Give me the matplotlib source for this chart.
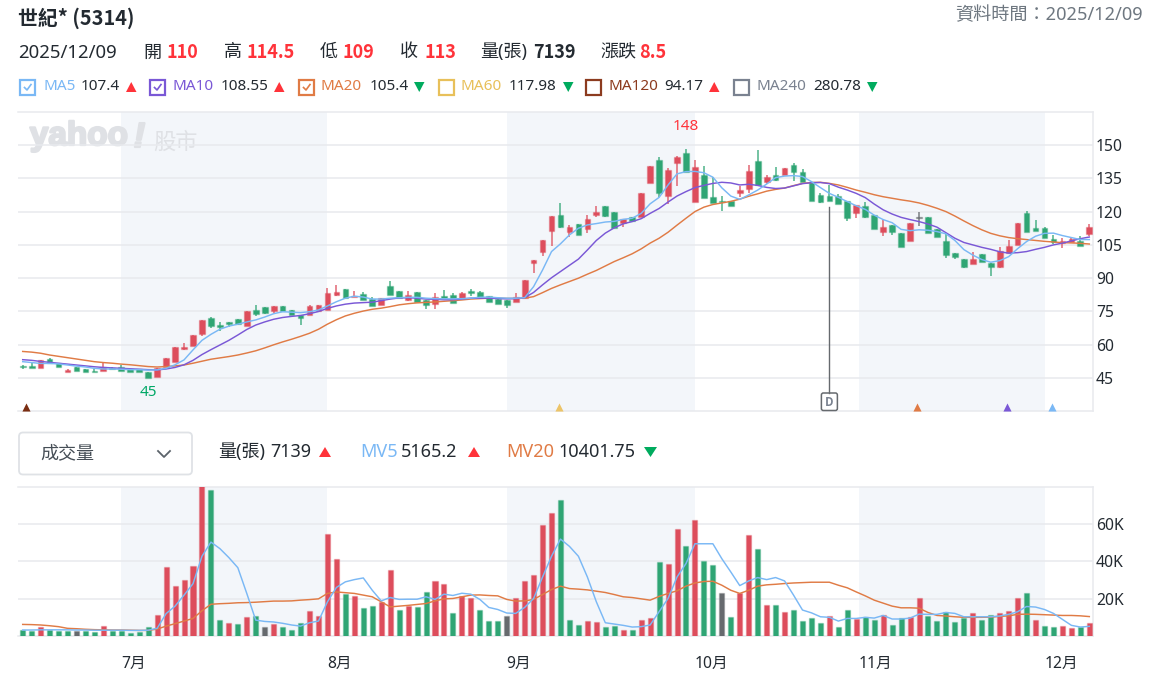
import matplotlib
matplotlib.use("Agg")
import matplotlib.pyplot as plt
from matplotlib.colors import to_rgb
from matplotlib.patches import Rectangle, FancyBboxPatch, Polygon
from matplotlib.ticker import FuncFormatter
import matplotlib.patheffects as pe

plt.rcParams['font.family'] = ['Noto Sans', 'Noto Sans CJK TC', 'DejaVu Sans']

W, H = 1160, 687

# Daily candles, 2025 sessions in order
opens = [50.3,50.6,49.4,53.8,52.0,47.8,50.0,49.3,48.2,48.4,49.7,49.9,49.3,49.3,47.8,45.4,49.9,52.1,58.3,59.5,
         65.0,71.9,68.9,70.1,71.8,68.6,75.7,76.9,75.1,77.5,75.7,73.4,73.6,75.1,75.7,82.4,85.0,81.5,82.7,80.5,
         78.0,86.6,84.2,80.2,83.6,80.2,78.2,81.8,82.4,81.0,84.1,83.6,81.8,80.6,80.0,79.3,81.0,96.7,101.7,111.3,
         118.6,110.7,114.6,112.0,118.5,122.5,119.7,114.7,117.4,117.7,132.7,143.4,127.2,141.7,146.3,124.5,136.5,126.4,124.8,124.6,
         128.4,130.0,142.8,133.3,136.5,136.6,141.0,138.0,133.5,127.5,127.0,127.0,124.8,119.2,122.5,118.5,110.7,114.0,110.2,106.9,
         117.2,117.4,112.0,106.8,101.2,98.7,96.2,101.0,96.7,94.9,101.5,105.0,119.2,112.5,112.5,107.7,105.7,106.5,106.9,110.0]
highs = [51.1,52.3,53.2,54.1,52.0,49.3,50.0,49.3,49.3,51.7,50.0,50.9,49.3,49.3,47.8,49.7,54.2,59.0,60.7,64.6,
         71.3,72.5,70.3,70.1,71.8,75.2,78.1,76.9,77.5,77.5,75.7,73.4,78.1,78.1,85.4,87.1,85.0,84.4,83.6,81.7,
         80.9,88.7,84.2,84.1,83.6,80.2,83.2,84.7,83.2,83.6,85.0,84.1,81.8,80.6,80.0,83.2,89.2,98.2,107.4,118.0,
         123.7,114.1,114.6,118.5,122.5,122.5,119.7,116.5,117.4,128.2,140.5,144.4,139.5,144.9,148.0,143.2,140.5,135.4,127.2,124.6,
         131.5,141.0,147.8,136.6,139.9,139.5,141.7,139.0,133.5,128.2,132.0,127.9,124.8,123.0,124.2,118.5,116.2,114.0,110.2,114.7,
         119.8,117.4,112.0,110.2,101.2,98.7,101.7,101.0,96.7,104.2,107.2,114.7,120.3,116.3,112.9,109.5,108.0,108.3,108.9,114.5]
lows = [49.2,49.4,49.4,51.7,49.9,47.8,48.2,47.8,47.6,48.4,49.0,48.4,47.8,47.8,45.0,45.4,49.9,52.1,57.7,59.5,
        64.1,67.4,66.4,68.2,69.0,68.6,73.0,73.7,74.2,75.1,73.6,68.9,73.6,75.1,75.7,82.0,80.9,81.5,80.2,77.5,
        78.0,82.4,80.9,79.7,79.4,76.0,76.0,80.9,78.8,81.0,82.1,81.4,79.4,78.2,76.4,79.3,81.0,92.2,100.2,104.7,
        112.5,108.5,109.6,110.2,117.7,117.7,112.6,113.1,115.6,117.7,132.7,126.4,123.4,131.7,137.8,124.5,126.0,123.7,120.4,122.5,
        126.4,128.2,132.0,132.4,134.0,136.6,133.9,133.5,124.9,123.7,124.9,123.3,115.9,117.0,117.0,112.0,109.0,109.6,103.9,106.9,
        113.5,110.2,108.6,98.9,98.5,94.4,96.2,97.3,91.0,94.4,101.5,105.0,110.7,111.4,108.1,105.4,103.4,106.5,104.6,109.0]
closes = [50.0,49.4,53.2,52.0,50.2,48.7,48.2,47.8,47.8,49.9,49.0,48.4,47.8,47.8,45.0,49.7,53.9,59.0,59.2,64.6,
          71.3,68.5,67.9,69.5,69.2,75.2,74.0,74.2,77.5,75.1,73.6,71.9,77.5,78.1,83.2,83.8,80.9,82.0,80.2,77.5,
          80.9,82.4,81.0,82.3,79.4,77.8,81.4,81.2,78.8,83.2,83.2,81.4,79.4,78.2,78.1,81.5,89.2,98.2,107.4,118.0,
          112.9,112.9,109.6,116.8,119.8,118.0,112.6,116.5,115.6,128.2,140.5,128.4,138.8,144.4,137.8,140.0,126.0,123.7,124.3,122.5,
          129.7,138.3,132.0,135.7,134.4,139.5,138.0,133.5,124.9,124.2,124.9,123.3,117.0,123.0,117.7,112.0,112.9,110.7,103.9,114.7,
          117.2,110.2,108.6,100.6,99.4,94.9,98.8,97.3,95.2,102.2,104.5,114.7,110.7,111.4,108.1,106.2,106.8,107.5,104.6,113.0]

# Moving averages of price
ma5 = [52.4,52.0,51.6,51.6,51.4,50.9,50.4,50.0,49.4,49.1,49.1,49.0,48.8,48.8,48.6,48.7,49.4,51.0,53.2,57.7,
       62.0,64.7,67.0,68.4,69.3,70.3,71.2,72.5,74.0,74.9,74.7,74.5,74.9,75.7,77.5,79.4,81.0,81.9,81.5,80.6,
       80.6,81.0,81.2,81.4,81.4,81.0,80.8,80.7,80.7,80.8,81.0,81.4,81.5,81.2,81.0,81.0,81.2,86.2,93.7,102.0,
       105.5,109.5,112.5,114.0,114.6,115.3,115.6,116.5,117.0,119.2,123.5,126.4,132.0,137.0,138.0,138.1,137.5,135.5,130.7,127.0,
       125.5,127.5,129.7,132.4,135.3,136.0,136.2,135.8,133.5,130.8,128.2,126.4,124.5,122.6,121.0,118.4,116.4,115.0,112.0,111.4,
       111.8,111.6,111.0,110.0,107.0,102.9,100.4,98.4,97.2,97.9,99.7,103.3,106.5,108.9,110.2,110.3,109.2,108.3,107.4,107.4]
ma10 = [53.3,53.0,52.5,52.1,51.7,51.3,50.9,50.5,50.1,49.8,49.6,49.4,49.2,49.0,48.8,48.7,49.1,49.8,51.0,53.0,
        55.6,57.8,59.9,62.0,64.4,66.9,68.9,70.3,71.5,72.3,72.8,73.2,74.0,75.0,76.4,77.5,78.3,78.8,79.0,79.2,
        79.9,80.6,81.1,81.2,81.0,80.6,80.5,80.3,80.3,80.6,81.0,81.0,81.0,80.8,80.7,80.8,81.2,83.6,87.0,90.2,
        93.0,95.8,98.6,102.7,107.0,110.3,112.7,114.5,115.5,116.8,119.2,121.4,124.3,127.0,129.0,130.8,131.8,132.7,133.2,132.9,
        132.0,132.3,131.8,130.9,130.4,130.6,131.6,132.6,133.0,133.1,132.6,131.0,129.7,128.2,126.3,123.4,120.8,118.9,117.4,116.4,
        115.5,114.4,113.0,110.5,108.0,106.1,105.0,103.9,103.0,101.9,101.3,101.5,102.0,103.0,103.9,105.0,105.8,106.8,107.8,108.55]
ma20 = [57.0,56.7,56.2,55.4,54.8,54.2,53.6,53.0,52.4,52.0,51.7,51.3,51.0,50.6,50.2,50.0,50.2,50.5,50.9,51.7,
        52.6,53.5,54.1,54.7,55.4,56.3,57.3,58.6,60.0,61.3,62.5,63.8,65.2,67.0,69.3,71.3,73.0,74.2,75.2,76.0,
        76.5,77.2,78.0,78.5,78.9,79.1,79.3,79.6,79.9,80.2,80.6,80.8,81.0,81.0,80.9,80.9,81.0,81.7,83.5,85.4,
        87.0,88.5,90.0,91.8,93.5,95.5,97.5,99.2,101.0,103.2,105.8,108.0,110.7,113.9,117.0,120.0,122.0,123.2,123.9,124.6,
        125.6,126.9,128.0,129.2,130.0,130.6,131.7,132.7,133.1,133.2,132.7,132.0,130.9,129.7,128.7,127.6,126.7,126.0,125.3,124.7,
        123.9,122.8,121.5,120.0,118.0,115.8,113.7,111.8,110.2,109.1,108.3,107.8,107.4,107.0,106.6,106.3,106.0,105.9,105.7,105.4]

# Volume per session in thousand lots, with direction of the day
volume = [3.0,2.7,4.8,3.2,2.7,2.7,2.8,2.8,2.1,5.3,2.8,2.8,1.4,2.1,4.8,11.4,36.8,26.7,30.2,37.3,
          84.0,78.0,8.7,6.8,6.2,10.1,10.7,4.8,6.2,4.8,3.4,6.8,13.3,10.7,54.8,41.4,22.6,21.3,14.8,16.0,
          18.0,35.6,14.0,16.2,15.5,23.5,29.3,28.1,12.1,21.2,20.1,14.0,8.0,8.0,10.7,20.1,29.3,32.7,59.6,66.0,
          72.7,8.7,6.0,8.0,7.3,4.8,5.5,3.4,3.4,8.7,9.4,39.5,38.8,57.4,48.0,62.0,40.0,38.0,22.8,10.1,
          22.8,54.0,46.8,16.7,16.7,12.8,14.0,8.0,9.4,6.8,10.7,4.8,14.0,8.9,10.1,8.7,11.4,6.0,9.4,10.1,
          20.1,10.7,8.0,12.8,7.5,9.4,12.1,8.7,11.4,12.1,13.3,20.1,22.8,8.7,5.3,4.8,5.3,4.1,4.6,7.139]
vol_dir = ["g","g","r","g","g","g","k","g","g","r","g","g","g","g","g","r","r","r","r","r",
           "r","g","g","r","g","r","g","k","r","g","g","g","r","r","r","r","g","r","g","g",
           "r","r","g","r","g","g","r","r","g","r","r","g","g","g","k","r","r","r","r","r",
           "g","g","g","r","r","g","g","r","g","r","r","g","r","r","g","r","g","g","k","g",
           "r","r","g","r","g","r","g","g","g","g","r","g","g","r","g","g","r","g","g","r",
           "r","g","g","g","g","g","r","g","g","r","r","r","g","r","g","g","r","r","g","r"]

mv5 = [3.2,3.2,3.3,3.3,3.3,3.3,3.2,3.2,3.1,3.1,3.1,3.1,3.0,3.0,3.1,4.1,12.0,16.0,21.9,28.0,
       42.7,50.3,46.8,42.0,36.6,22.8,8.5,7.8,7.5,6.8,5.9,5.3,7.1,8.0,18.3,26.0,29.0,30.2,31.1,24.5,
       18.8,20.6,19.6,19.7,19.7,21.0,19.6,22.4,21.7,22.9,22.4,19.6,15.3,14.2,12.3,12.1,15.3,20.1,31.6,42.7,
       51.9,48.0,42.7,31.6,18.3,7.1,6.4,5.7,4.8,5.0,5.9,13.0,20.1,31.6,38.8,49.4,49.4,49.4,41.4,34.3,
       27.0,29.5,31.3,30.2,31.3,29.5,21.9,13.9,12.4,10.3,10.0,8.0,9.4,9.4,10.0,9.6,11.0,9.1,9.1,9.6,
       11.7,11.6,11.6,12.6,12.1,10.3,10.3,10.3,10.3,10.7,11.6,13.0,15.8,15.5,14.2,12.1,8.9,5.7,4.8,5.165]
mv20 = [6.2,6.1,5.9,5.5,5.0,4.1,3.9,3.6,3.4,3.3,3.2,3.2,3.1,3.0,3.0,3.7,5.3,6.6,8.0,9.4,
        13.5,17.0,17.3,17.5,17.8,17.9,18.1,18.4,18.7,18.7,18.8,19.2,19.5,19.9,22.8,23.6,23.2,22.8,21.9,21.0,
        18.3,15.6,16.0,16.4,16.9,17.4,18.8,19.9,20.1,21.0,21.9,22.0,21.7,21.5,19.6,18.7,18.8,19.6,22.2,24.9,
        26.7,25.4,25.1,24.7,24.0,23.3,22.2,21.0,20.6,19.9,19.2,21.2,22.8,24.2,26.7,28.4,29.2,29.3,27.2,24.5,
        22.8,24.5,26.7,27.4,27.7,28.1,28.4,28.6,28.8,28.8,28.8,27.2,25.8,23.6,21.5,19.2,17.6,16.0,15.1,15.1,
        14.9,12.6,11.0,10.7,10.3,10.0,10.0,10.0,10.1,10.5,10.8,11.6,11.7,11.6,11.4,11.2,11.0,11.0,10.8,10.402]

# Axis content
price_ticks = [45, 60, 75, 90, 105, 120, 135, 150]
volume_ticks = [20, 40, 60]
month_labels = ["7月", "8月", "9月", "10月", "11月", "12月"]
month_starts = [11, 34, 54, 75, 93.3, 114]
shaded_months = [(11, 34), (54, 75), (93.3, 114)]

# Crossing markers along the price axis floor and the dividend flag
ma_marks = [(0.4, "#7a2e12"), (59.8, "#ecc468"), (99.8, "#e07b45"), (109.8, "#7a58d6"), (114.8, "#7ab8f5")]
flag_session = 90
flag_top = 122.0

RED_TXT = "#ff333a"
GREEN_TXT = "#00ab5e"
INK = "#232a31"
GRID = "#e8eaee"
BAND = "#f3f6fa"
RED = "#dd4d5c"
GREEN = "#2fa574"
GREY = "#666a6e"
MARK = "#dfe1e5"
C_MA5, C_MA10, C_MA20 = "#7ab8f5", "#7a58d6", "#e07b45"
C_MA60, C_MA120, C_MA240 = "#e8c05a", "#8c3b1f", "#7a8290"
BOLD = ["Noto Sans CJK TC", "DejaVu Sans"]

fig = plt.figure(figsize=(W / 100, H / 100), dpi=100, facecolor="white")


def panel(top, bottom):
    return fig.add_axes([18 / W, 1 - bottom / H, (1093 - 18) / W, (bottom - top) / H])


ax = panel(112, 411)
av = panel(487, 636)
X_LIM = (-0.524, 119.41)

for a in (ax, av):
    a.set_xlim(*X_LIM)
    a.set_xticks([])
    a.yaxis.tick_right()
    a.tick_params(axis="y", length=0, pad=2, labelsize=11.3, labelcolor=INK)
    a.set_axisbelow(True)
    a.grid(axis="y", color=GRID, lw=1.1)
    a.spines["left"].set_visible(False)
    for s in ("top", "right", "bottom"):
        a.spines[s].set_color(GRID)
        a.spines[s].set_linewidth(1.1)
    for start, end in shaded_months:
        a.axvspan(start, end, color=BAND, lw=0, zorder=0)

ax.set_ylim(30.18, 164.86)
ax.set_yticks(price_ticks)
av.set_ylim(0, 79.8)
av.set_yticks(volume_ticks)
av.yaxis.set_major_formatter(FuncFormatter(lambda v, _: f"{v:.0f}K"))

# Watermark
thicken = [pe.withStroke(linewidth=1.6, foreground=MARK)]
ax.text(0.011, 0.8896, "yahoo", transform=ax.transAxes, fontsize=24, fontweight="bold",
        family=["Liberation Sans"], color=MARK, va="baseline", zorder=0.4, path_effects=thicken)
ax.text(0.1075, 0.883, "!", transform=ax.transAxes, fontsize=25, fontweight="bold", style="italic",
        family=["Liberation Sans"], color=MARK, va="baseline", zorder=0.4, path_effects=thicken)
ax.text(0.1255, 0.9, "股市", transform=ax.transAxes, fontsize=16, family=["Noto Sans CJK TC"],
        color=MARK, va="center", zorder=0.4)

# Candles
for i, (o, h, l, c) in enumerate(zip(opens, highs, lows, closes)):
    col = RED if c > o else GREEN if c < o else GREY
    ax.vlines(i, l, h, color=col, lw=1.1, alpha=0.85, zorder=3)
    body = max(abs(c - o), 0.15)
    ax.bar(i, body, bottom=min(o, c), width=0.64, color=col, edgecolor=(*to_rgb(col), 0.35), lw=1.0, zorder=3)

sessions = list(range(len(closes)))
ax.plot(sessions, ma20, color=C_MA20, lw=1.05, zorder=4)
ax.plot(sessions, ma10, color=C_MA10, lw=1.05, zorder=5)
ax.plot(sessions, ma5, color=C_MA5, lw=1.05, zorder=6)

ax.text(74, 148 + 10.3, "148", color=RED_TXT, fontsize=11, ha="center", va="center", zorder=7)
ax.text(14, 45 - 6.3, "45", color="#00a866", fontsize=11, ha="center", va="center", zorder=7)

# Markers resting on the floor of the price panel
floor = ax.get_xaxis_transform()
for pos, col in ma_marks:
    ax.scatter([pos], [0.013], marker="^", s=34, color=col, transform=floor, lw=0, zorder=7, clip_on=False)

# Volume bars
vol_colors = {"r": RED, "g": GREEN, "k": GREY}
for i, (v, d) in enumerate(zip(volume, vol_dir)):
    col = vol_colors[d]
    av.bar(i, v, width=0.56, color=col, edgecolor=(*to_rgb(col), 0.3), lw=1.0, zorder=3)
av.plot(sessions, mv20, color=C_MA20, lw=1.05, zorder=4)
av.plot(sessions, mv5, color=C_MA5, lw=1.05, zorder=5)

# Month labels sit at the first session of each month
for pos, lab in zip(month_starts, month_labels):
    av.annotate(lab, xy=(pos, 0), xycoords=("data", "axes fraction"), xytext=(0, -27.5 * 0.72),
                textcoords="offset points", ha="left", va="center", fontsize=11.3, color=INK)

# Overlay in pixel units for the header rows
ov = fig.add_axes([0, 0, 1, 1], facecolor="none")
ov.set_xlim(0, W)
ov.set_ylim(H, 0)
ov.axis("off")


def tx(x, y, s, size=11.0, color=INK, ha="left", family=None, weight="normal"):
    ov.text(x, y, s, fontsize=size, color=color, fontweight=weight, ha=ha, va="center",
            **({"family": family} if family else {}))


def tri(x0, x1, y, up=True):
    if up:
        ov.add_patch(Polygon([(x0, y + 5), (x1, y + 5), ((x0 + x1) / 2, y - 5)], color=RED_TXT, lw=0))
    else:
        ov.add_patch(Polygon([(x0, y - 5), (x1, y - 5), ((x0 + x1) / 2, y + 5)], color=GREEN_TXT, lw=0))


tx(18, 18, "世紀* (5314)", size=14.3, weight="bold", family=BOLD)
tx(1143, 15, "資料時間：2025/12/09", size=13.1, color="#6e7780", ha="right")

tx(18, 52.5, "2025/12/09", size=13.4)
for x, lab in [(143, "開"), (224, "高"), (320, "低"), (400, "收"), (480, "量(張)"), (600, "漲跌")]:
    tx(x, 52.5, lab, size=13)
for x, val in [(166, "110"), (247, "114.5"), (343, "109"), (424, "113"), (639, "8.5")]:
    tx(x, 52.5, val, size=13, color=RED_TXT, weight="bold", family=BOLD)
tx(533, 52.5, "7139", size=13, weight="bold", family=BOLD)

legend_row = [
    (19, "MA5", C_MA5, "107.4", 43.5, 81, 126, True, True),
    (149, "MA10", C_MA10, "108.55", 173, 221, 274, True, True),
    (298, "MA20", C_MA20, "105.4", 321, 370, 414, False, True),
    (438, "MA60", C_MA60, "117.98", 460, 509, 563, False, False),
    (585, "MA120", C_MA120, "94.17", 608, 664, 709, True, False),
    (733, "MA240", C_MA240, "280.78", 756, 813, 867, False, False),
]
for bx, name, col, val, nx, vx, tr, up, checked in legend_row:
    ov.add_patch(Rectangle((bx + 1, 79.5), 15, 15, fc="white", ec=col, lw=1.6))
    if checked:
        ov.plot([bx + 5.5, bx + 8, bx + 12], [87.5, 90, 84.5], color=col, lw=1.2)
    tx(nx, 87, name, size=11, color=col)
    tx(vx, 87, val, size=11)
    tri(tr, tr + 10.5, 87, up)

# Indicator selector and volume legend
ov.add_patch(FancyBboxPatch((19, 432.5), 173, 42, boxstyle="round,pad=0,rounding_size=4", fc="white", ec="#dfe2e6", lw=1.3))
tx(40, 453, "成交量", size=13, color="#464e56")
ov.plot([158, 164, 170], [451, 457, 451], color="#5b636a", lw=1.3)

tx(218, 452, "量(張)", size=13)
tx(270, 452, "7139", size=13)
tri(319, 331, 452, True)
tx(360, 452, "MV5", size=13, color=C_MA5)
tx(401, 452, "5165.2", size=13)
tri(468, 480, 452, True)
tx(506, 452, "MV20", size=13, color=C_MA20)
tx(558, 452, "10401.75", size=13)
tri(644, 657, 452, False)

# Flag stem and label
stem_x = ax.transData.transform((flag_session, 0))[0]
stem_top = H - ax.transData.transform((0, flag_top))[1]
ov.plot([stem_x, stem_x], [stem_top, 393], color=GREY, lw=1.0)
ov.add_patch(FancyBboxPatch((stem_x - 8, 393), 16, 17.5, boxstyle="round,pad=0,rounding_size=2", fc="white", ec=GREY, lw=1.1))
tx(stem_x, 402, "D", size=8.5, color="#7a8290", ha="center", weight="bold", family=BOLD)

fig.savefig("out.png", dpi=100, facecolor="white")
